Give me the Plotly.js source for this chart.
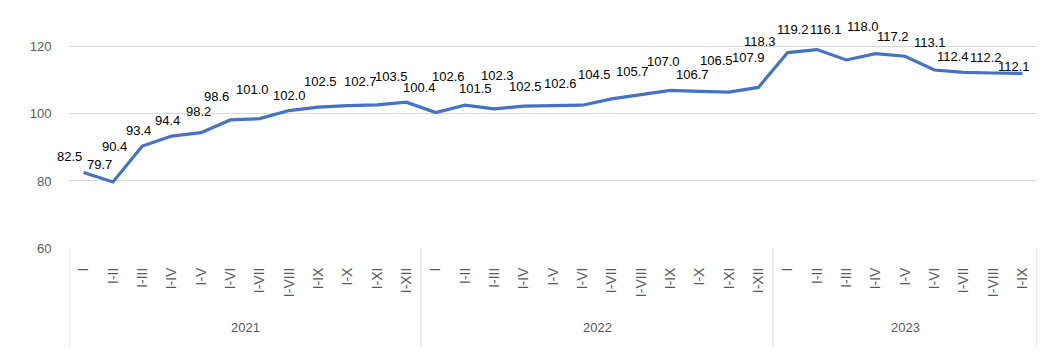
<!DOCTYPE html>
<html><head><meta charset="utf-8">
<script src="https://cdn.plot.ly/plotly-3.0.1.min.js"></script>
<style>html,body{margin:0;padding:0;background:#fff}#chart{width:1056px;height:364px}</style>
</head><body><div id="chart"></div>
<script>
const years = ["2021","2022","2023"];
const periods2021 = ["I","I-II","I-III","I-IV","I-V","I-VI","I-VII","I-VIII","I-IX","I-X","I-XI","I-XII"];
const periods2022 = ["I","I-II","I-III","I-IV","I-V","I-VI","I-VII","I-VIII","I-IX","I-X","I-XI","I-XII"];
const periods2023 = ["I","I-II","I-III","I-IV","I-V","I-VI","I-VII","I-VIII","I-IX"];
const values2021 = [82.5,79.7,90.4,93.4,94.4,98.2,98.6,101.0,102.0,102.5,102.7,103.5];
const values2022 = [100.4,102.6,101.5,102.3,102.5,102.6,104.5,105.7,107.0,106.7,106.5,107.9];
const values2023 = [118.3,119.2,116.1,118.0,117.2,113.1,112.4,112.2,112.1];
const yTicks = [60,80,100,120];

// label offsets (px) relative to each point, as placed in the reference
const labelShift = [
 [-14,-16],[-14,-17],[-28,0],[-33,-6],[-34,-12],[-32,-8],[-43,-22],[-37,-21],[-29,-12],[-27,-24],[-17,-23],[-15,-26],
 [-16,-25],[-17,-29],[-19,-20],[-26,-31],[-28,-19],[-22,-22],[-17,-24],[-9,-23],[-7,-29],[-7,-17],[-13,-32],[-10,-30],
 [-28,-11],[-24,-20],[-20,-30],[-13,-27],[-12,-20],[-4,-28],[-11,-16],[-7,-16],[-8,-7]
];

const groups = [[years[0],periods2021,values2021],[years[1],periods2022,values2022],[years[2],periods2023,values2023]];
const idx = [], inner = [], vals = [];
const groupBounds = [-0.5], groupCenters = [];
groups.forEach(g => {
  const start = idx.length;
  g[1].forEach((p,i) => { idx.push(idx.length); inner.push(p); vals.push(g[2][i]); });
  groupCenters.push((start + idx.length - 1) / 2);
  groupBounds.push(idx.length - 0.5);
});

const fnt = "Liberation Sans, Arial, sans-serif";
const trace = {
  x: idx, y: vals, type: 'scatter', mode: 'lines',
  line: {color: '#4472C4', width: 3.2}, hoverinfo: 'y'
};
const annotations = vals.map((v,i) => ({
  xref: 'x', yref: 'y', x: i, y: v, text: v.toFixed(1), showarrow: false,
  xanchor: 'center', yanchor: 'middle', xshift: labelShift[i][0], yshift: -labelShift[i][1],
  font: {family: fnt, size: 13, color: '#000'}
}));
years.forEach((yr,k) => annotations.push({
  xref: 'x', yref: 'paper', x: groupCenters[k], y: -0.336, text: yr, showarrow: false,
  xanchor: 'center', yanchor: 'middle', font: {family: fnt, size: 13, color: '#595959'}
}));
const shapes = groupBounds.map(b => ({
  type: 'line', xref: 'x', yref: 'paper', x0: b, x1: b, y0: 0, y1: -0.416,
  line: {color: '#d9d9d9', width: 1}
}));

const layout = {
  width: 1056, height: 364,
  margin: {l: 69, r: 19, t: 10, b: 116},
  paper_bgcolor: '#fff', plot_bgcolor: '#fff',
  showlegend: false,
  xaxis: {
    type: 'linear', range: [-0.5, vals.length - 0.5],
    tickvals: idx, ticktext: inner, tickangle: -90,
    tickfont: {family: fnt, size: 14, color: '#595959'},
    showgrid: false, showline: false, zeroline: false,
    ticks: 'outside', ticklen: 13, tickcolor: 'rgba(0,0,0,0)'
  },
  yaxis: {
    range: [60, 131], tickvals: yTicks, ticktext: yTicks.map(String),
    tickfont: {family: fnt, size: 13, color: '#595959'},
    showgrid: true, gridcolor: '#d9d9d9', gridwidth: 1, zeroline: false, showline: false,
    ticks: 'outside', ticklen: 14, tickcolor: 'rgba(0,0,0,0)'
  },
  shapes: shapes,
  annotations: annotations
};
Plotly.newPlot('chart', [trace], layout, {displayModeBar: false, staticPlot: true});
</script></body></html>
